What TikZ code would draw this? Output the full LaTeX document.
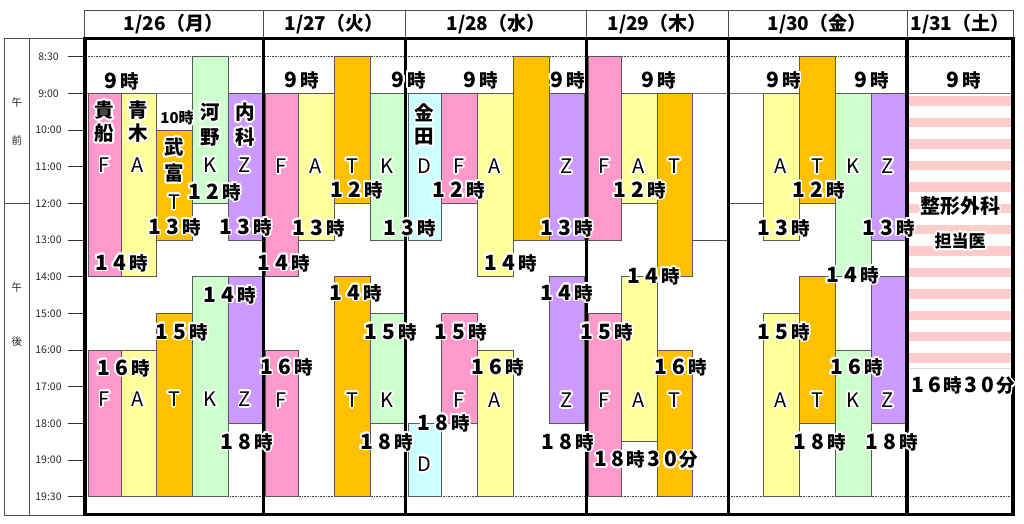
\documentclass[tikz,border=0pt]{standalone}
\usepackage{fontspec}
\newfontfamily\jp{Noto Sans CJK JP}
\definecolor{cf}{HTML}{FF99CC}
\definecolor{ca}{HTML}{FFFF99}
\definecolor{ct}{HTML}{FFC000}
\definecolor{ck}{HTML}{CCFFCC}
\definecolor{cz}{HTML}{CC99FF}
\definecolor{cd}{HTML}{CCFFFF}
\definecolor{cs}{HTML}{FFCCCC}
\newsavebox\glowbox
\newlength\gdx
\newlength\gdy
\newcommand\glow[1]{%
  \setbox\glowbox\hbox{#1}%
  \mbox{\foreach \ga in {0,22.5,...,337.5}{%
      \pgfmathsetlength\gdx{1.8*cos(\ga)}%
      \pgfmathsetlength\gdy{1.8*sin(\ga)}%
      \rlap{\hspace*{\gdx}\raisebox{\gdy}{\textcolor{white}{\copy\glowbox}}}}%
    \copy\glowbox}}
\newcommand\dg[2][18.5pt]{\makebox[#1]{\fontsize{21}{21}\selectfont#2}}
\newcommand\tslot[5]{%
  \pgfmathsetmacro\tya{93.33+(#3-9)*36.667}%
  \pgfmathsetmacro\tyb{93.33+(#4-9)*36.667}%
  \filldraw[barline, fill=#5] (#1,\tya) rectangle (#2,\tyb);}
\newcommand\tlab[4]{\node[#1] (#2) at (#3) {\glow{#4}};}
\tikzset{
  tl/.style={font=\jp\bfseries\fontsize{18.5}{20}\selectfont, inner sep=0pt},
  ts/.style={font=\jp\bfseries\fontsize{15}{17}\selectfont, inner sep=0pt},
  lt/.style={font=\jp\fontsize{20}{22}\selectfont, inner sep=0pt},
  kj/.style={font=\jp\bfseries\fontsize{19.5}{21}\selectfont, inner sep=0pt},
  kb/.style={font=\jp\bfseries\fontsize{20}{22}\selectfont, inner sep=0pt},
  kc/.style={font=\jp\bfseries\fontsize{17}{19}\selectfont, inner sep=0pt},
  ax/.style={font=\jp\fontsize{10.5}{12}\selectfont, inner sep=0pt, text=black!85},
  hd/.style={font=\jp\bfseries\fontsize{19}{21}\selectfont, inner sep=0pt},
  barline/.style={draw=black!65, line width=0.8pt},
  fr/.style={line width=3.2pt, draw=black},
  thin/.style={draw=black!70, line width=0.7pt},
}
\begin{document}
\begin{tikzpicture}[x=1pt,y=-1pt]
\fill[white] (0,0) rectangle (1024,524);
\useasboundingbox (0,0) rectangle (1024,524);
% reference lines
\draw[black!55, line width=0.6pt] (86,93.33) -- (1012,93.33);
\draw[black!75, line width=0.6pt, densely dotted] (86,56.67) -- (1012,56.67);
\draw[black!75, line width=0.6pt, densely dotted] (86,496.67) -- (1012,496.67);
% 1/31 stripes
\foreach \k in {0,...,12} \fill[cs] (909,{96.5+\k*21.4}) rectangle (1011,{106+\k*21.4});
\draw[black!15, line width=0.6pt] (909,368.3) -- (1011,368.3);
% 1/26
\tslot{88}{121}{9}{14}{cf}
\tslot{121}{156}{9}{14}{ca}
\tslot{156}{192}{10}{13}{ct}
\tslot{192}{228}{8}{12}{ck}
\tslot{228}{262}{9}{13}{cz}
\tslot{88}{121}{16}{20}{cf}
\tslot{121}{156}{16}{20}{ca}
\tslot{156}{192}{15}{20}{ct}
\tslot{192}{228}{14}{20}{ck}
\tslot{228}{262}{14}{18}{cz}
% 1/27
\tslot{265}{298}{9}{14}{cf}
\tslot{298}{334}{9}{13}{ca}
\tslot{334}{370}{8}{12}{ct}
\tslot{370}{404}{9}{13}{ck}
\tslot{265}{298}{16}{20}{cf}
\tslot{334}{370}{14}{20}{ct}
\tslot{370}{404}{15}{18}{ck}
% 1/28
\tslot{408}{441}{9}{13}{cd}
\tslot{441}{477}{9}{12}{cf}
\tslot{477}{513}{9}{14}{ca}
\tslot{513}{549}{8}{13}{ct}
\tslot{549}{584}{9}{13}{cz}
\tslot{408}{441}{18}{20}{cd}
\tslot{441}{477}{15}{18}{cf}
\tslot{477}{513}{16}{20}{ca}
\tslot{549}{584}{14}{18}{cz}
% 1/29
\tslot{588}{621}{8}{13}{cf}
\tslot{621}{657}{9}{12}{ca}
\tslot{657}{692}{9}{14}{ct}
\tslot{588}{621}{15}{20}{cf}
\tslot{621}{657}{14}{18.5}{ca}
\tslot{657}{692}{16}{20}{ct}
\draw[thin] (692,240) -- (727,240);
% 1/30
\tslot{763}{799}{9}{13}{ca}
\tslot{799}{835}{8}{12}{ct}
\tslot{835}{871}{9}{14}{ck}
\tslot{871}{905}{9}{13}{cz}
\tslot{763}{799}{15}{20}{ca}
\tslot{799}{835}{14}{18}{ct}
\tslot{835}{871}{16}{20}{ck}
\tslot{871}{905}{14}{18}{cz}
\draw[thin] (730,203.33) -- (763,203.33);
% left box
\draw[thin] (4,38.3) rectangle (85,515);
\draw[thin] (29.3,38.3) -- (29.3,515);
\draw[thin] (4,203.33) -- (29.3,203.33);
% header
\draw[thin] (84,10) rectangle (1013,37.5);
\foreach \hx in {263.5,405.7,586.7,728.3,907} \draw[thin] (\hx,10) -- (\hx,37.5);
\node[hd] (h1) at (173.5,24) {1/26（月）};
\node[hd] (h2) at (334,24) {1/27（火）};
\node[hd] (h3) at (496,24) {1/28（水）};
\node[hd] (h4) at (657,24) {1/29（木）};
\node[hd] (h5) at (817,24) {1/30（金）};
\node[hd] (h6) at (960,24) {1/31（土）};
% thick frame
\draw[fr] (85,38.5) rectangle (1013,514.5);
\foreach \fx in {263.5,405.7,586.7,728.3,907} \draw[fr] (\fx,38.5) -- (\fx,514.5);
% axis
\foreach \v/\t in {8/8:30,9/9:00,10/10:00,11/11:00,12/12:00,13/13:00,14/14:00,15/15:00,16/16:00,17/17:00,18/18:00,19/19:00,20/19:30}{
  \pgfmathsetmacro\ay{93.33+(\v-9)*36.667}
  \node[ax] (ax\v) at (48.5,\ay) {\t};
  \draw[black!80, line width=0.8pt] (68,\ay) -- (84,\ay);
}
\node[ax] (am1) at (17,102) {午};
\node[ax] (am2) at (17,140) {前};
\node[ax] (pm1) at (17,287) {午};
\node[ax] (pm2) at (17,342) {後};
% 1/26 labels
\tlab{tl}{a1}{120,81}{\dg{9}時}
\tlab{ts}{a2}{177,118}{10時}
\tlab{tl}{a3}{213,192}{\dg{1}\dg{2}時}
\tlab{tl}{a4}{173,227}{\dg{1}\dg{3}時}
\tlab{tl}{a5}{244,227}{\dg{1}\dg{3}時}
\tlab{tl}{a6}{120,263}{\dg{1}\dg{4}時}
\tlab{tl}{a7}{228,295}{\dg{1}\dg{4}時}
\tlab{tl}{a8}{180,332}{\dg{1}\dg{5}時}
\tlab{tl}{a9}{122,368}{\dg{1}\dg{6}時}
\tlab{tl}{a10}{245,442}{\dg{1}\dg{8}時}
\tlab{kj}{k1}{104.5,110}{貴}
\tlab{kj}{k2}{104.5,133}{船}
\tlab{kj}{k3}{138,110}{青}
\tlab{kj}{k4}{138,133}{木}
\tlab{kj}{k5}{174,147}{武}
\tlab{kj}{k6}{174,173}{富}
\tlab{kj}{k7}{210,112}{河}
\tlab{kj}{k8}{210,137}{野}
\tlab{kj}{k9}{245,112}{内}
\tlab{kj}{k10}{245,137}{科}
\tlab{lt}{m1}{104.5,165}{F}
\tlab{lt}{m2}{138,165}{A}
\tlab{lt}{m3}{174,202}{T}
\tlab{lt}{m4}{210,165}{K}
\tlab{lt}{m5}{245,165}{Z}
\tlab{lt}{m6}{104.5,399}{F}
\tlab{lt}{m7}{138,399}{A}
\tlab{lt}{m8}{174,399}{T}
\tlab{lt}{m9}{210,399}{K}
\tlab{lt}{m10}{245,399}{Z}
% 1/27 labels
\tlab{tl}{b1}{300,80}{\dg{9}時}
\tlab{tl}{b2}{407,80}{\dg{9}時}
\tlab{tl}{b3}{355,190}{\dg{1}\dg{2}時}
\tlab{tl}{b4}{317,228}{\dg{1}\dg{3}時}
\tlab{tl}{b5}{408,228}{\dg{1}\dg{3}時}
\tlab{tl}{b6}{282,263}{\dg{1}\dg{4}時}
\tlab{tl}{b7}{354,293}{\dg{1}\dg{4}時}
\tlab{tl}{b8}{389,332}{\dg{1}\dg{5}時}
\tlab{tl}{b9}{285,367}{\dg{1}\dg{6}時}
\tlab{tl}{b10}{385,442}{\dg{1}\dg{8}時}
\tlab{lt}{n1}{281.5,166}{F}
\tlab{lt}{n2}{316,166}{A}
\tlab{lt}{n3}{352,166}{T}
\tlab{lt}{n4}{387,166}{K}
\tlab{lt}{n5}{281.5,400}{F}
\tlab{lt}{n6}{352,400}{T}
\tlab{lt}{n7}{387,400}{K}
% 1/28 labels
\tlab{tl}{c1}{479,80}{\dg{9}時}
\tlab{tl}{c2}{566,80}{\dg{9}時}
\tlab{tl}{c3}{457,190}{\dg{1}\dg{2}時}
\tlab{tl}{c4}{565,228}{\dg{1}\dg{3}時}
\tlab{tl}{c5}{509,263}{\dg{1}\dg{4}時}
\tlab{tl}{c6}{565,293}{\dg{1}\dg{4}時}
\tlab{tl}{c7}{459,332}{\dg{1}\dg{5}時}
\tlab{tl}{c8}{496,367}{\dg{1}\dg{6}時}
\tlab{tl}{c9}{442,423}{\dg{1}\dg{8}時}
\tlab{tl}{c10}{566,442}{\dg{1}\dg{8}時}
\tlab{kj}{k11}{424.5,113}{金}
\tlab{kj}{k12}{424.5,137}{田}
\tlab{lt}{o1}{424.5,166}{D}
\tlab{lt}{o2}{459,166}{F}
\tlab{lt}{o3}{495,166}{A}
\tlab{lt}{o4}{566.5,166}{Z}
\tlab{lt}{o5}{459,400}{F}
\tlab{lt}{o6}{495,400}{A}
\tlab{lt}{o7}{566.5,400}{Z}
\tlab{lt}{o8}{424.5,464}{D}
% 1/29 labels
\tlab{tl}{d1}{657,80}{\dg{9}時}
\tlab{tl}{d2}{638,190}{\dg{1}\dg{2}時}
\tlab{tl}{d3}{652,276}{\dg{1}\dg{4}時}
\tlab{tl}{d4}{605,332}{\dg{1}\dg{5}時}
\tlab{tl}{d5}{679,367}{\dg{1}\dg{6}時}
\tlab{tl}{d6}{645,460}{\dg[17pt]{1}\dg[17pt]{8}時\dg[17pt]{3}\dg[17pt]{0}分}
\tlab{lt}{p1}{604.5,166}{F}
\tlab{lt}{p2}{639,166}{A}
\tlab{lt}{p3}{674.5,166}{T}
\tlab{lt}{p4}{604.5,400}{F}
\tlab{lt}{p5}{639,400}{A}
\tlab{lt}{p6}{674.5,400}{T}
% 1/30 labels
\tlab{tl}{e1}{782,80}{\dg{9}時}
\tlab{tl}{e2}{870,80}{\dg{9}時}
\tlab{tl}{e3}{817,190}{\dg{1}\dg{2}時}
\tlab{tl}{e4}{782,228}{\dg{1}\dg{3}時}
\tlab{tl}{e5}{887,228}{\dg{1}\dg{3}時}
\tlab{tl}{e6}{851,275}{\dg{1}\dg{4}時}
\tlab{tl}{e7}{782,332}{\dg{1}\dg{5}時}
\tlab{tl}{e8}{855,367}{\dg{1}\dg{6}時}
\tlab{tl}{e9}{818,442}{\dg{1}\dg{8}時}
\tlab{tl}{e10}{890,442}{\dg{1}\dg{8}時}
\tlab{lt}{q1}{781,166}{A}
\tlab{lt}{q2}{817,166}{T}
\tlab{lt}{q3}{853,166}{K}
\tlab{lt}{q4}{888,166}{Z}
\tlab{lt}{q5}{781,400}{A}
\tlab{lt}{q6}{817,400}{T}
\tlab{lt}{q7}{853,400}{K}
\tlab{lt}{q8}{888,400}{Z}
% 1/31 labels
\tlab{tl}{f1}{962,80}{\dg{9}時}
\tlab{kb}{f2}{960,206}{整形外科}
\tlab{kc}{f3}{960,241}{担当医}
\tlab{tl}{f4}{962,386}{\dg[17pt]{1}\dg[17pt]{6}時\dg[17pt]{3}\dg[17pt]{0}分}
\end{tikzpicture}
\end{document}
